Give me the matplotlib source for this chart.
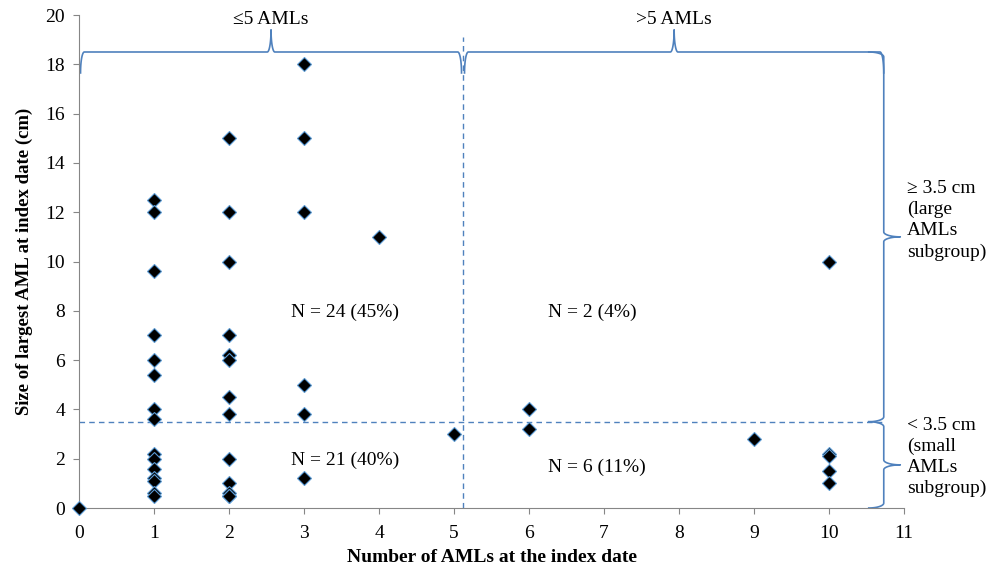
import numpy as np
import matplotlib
matplotlib.use("Agg")
import matplotlib.pyplot as plt

plt.rcParams['font.family'] = ['Liberation Serif', 'DejaVu Serif']

# data: number of AMLs vs size of largest AML
n_amls = [0,
          1, 1, 1, 1, 1, 1, 1, 1, 1, 1, 1, 1, 1, 1, 1,
          2, 2, 2, 2, 2, 2, 2, 2, 2, 2, 2, 2, 2,
          3, 3, 3, 3, 3, 3,
          4, 5, 6, 6, 9,
          10, 10, 10, 10, 10]
size_cm = [0,
           12.5, 12, 9.6, 7, 6, 5.4, 4, 3.6, 2.2, 2.0, 1.6, 1.2, 1.1, 0.6, 0.5,
           15, 12, 10, 7, 6.2, 6, 4.5, 3.8, 2, 1, 0.6, 0.5, 0.5,
           18, 15, 12, 5, 3.8, 1.2,
           11, 3.0, 4, 3.2, 2.8,
           10, 2.2, 2.1, 1.5, 1.0]

split_n = 5.12       # dashed vertical divider
split_size = 3.5     # dashed horizontal divider
group_labels = ["N = 24 (45%)", "N = 2 (4%)", "N = 21 (40%)", "N = 6 (11%)"]
group_pos = [(3.55, 7.95), (6.85, 7.95), (3.55, 1.95), (6.9, 1.65)]

blue = '#4F81BD'
gray = '#868686'


def hbrace(x0, x1, yb, d, w, h):
    # horizontal curly brace, ends curl down by d, tip up by h
    xm = (x0 + x1) / 2
    t = np.linspace(0, np.pi / 2, 20)
    c, s = np.cos(t), np.sin(t)
    xs = np.concatenate([x0 + w - w * c, xm - w + w * s, xm + w - w * c, x1 - w + w * s])
    ys = np.concatenate([yb - d + d * s, yb + h - h * c, yb + h - h * s, yb - d + d * c])
    return xs, ys


def vbrace(y0, y1, xb, d, w, h):
    # vertical curly brace, ends curl left by d, tip right by h
    ym = (y0 + y1) / 2
    t = np.linspace(0, np.pi / 2, 20)
    c, s = np.cos(t), np.sin(t)
    xs = np.concatenate([xb - d + d * s, xb + h - h * c, xb + h - h * s, xb - d + d * c])
    ys = np.concatenate([y0 + w - w * c, ym - w + w * s, ym + w - w * c, y1 - w + w * s])
    return xs, ys


fig = plt.figure(figsize=(10.03, 5.69), dpi=100)
ax = fig.add_axes([0.0788, 0.1072, 0.9013 - 0.0788, 0.9736 - 0.1072])

ax.plot(n_amls, size_cm, linestyle='none', marker='D', markersize=7.5,
        markerfacecolor='black', markeredgecolor='#5B9BD5', markeredgewidth=0.8,
        clip_on=False, zorder=5)

ax.plot([0, 10.7], [split_size, split_size], linestyle='--', color=blue,
        linewidth=1, dashes=(4, 3), clip_on=False)
ax.plot([split_n, split_n], [0, 19.1], linestyle='--', color=blue,
        linewidth=1, dashes=(4, 3), clip_on=False)

right_x = 10.73
for (a, b) in [(0.02, split_n - 0.02), (split_n + 0.02, right_x)]:
    xs, ys = hbrace(a, b, 18.5, 0.85, 0.05, 0.9)
    ax.plot(xs, ys, color=blue, linewidth=1.2, clip_on=False)
for (a, b) in [(0, split_size), (split_size, 18.5)]:
    xs, ys = vbrace(a, b, right_x, 0.2, 0.2, 0.22)
    ax.plot(xs, ys, color=blue, linewidth=1.2, clip_on=False)

ax.text(split_n / 2, 19.8, "≤5 AMLs", ha='center', va='center', fontsize=14)
ax.text((split_n + right_x) / 2, 19.8, ">5 AMLs", ha='center', va='center', fontsize=14)
ax.text(11.04, 13.3, "≥ 3.5 cm\n(large\nAMLs\nsubgroup)", ha='left', va='top',
        fontsize=14, linespacing=1.3)
ax.text(11.04, 3.7, "< 3.5 cm\n(small\nAMLs\nsubgroup)", ha='left', va='top',
        fontsize=14, linespacing=1.3)

for lab, (gx, gy) in zip(group_labels, group_pos):
    ax.text(gx, gy, lab, ha='center', va='center', fontsize=14)

ax.set_xlim(0, 11)
ax.set_ylim(0, 20)
ax.set_xticks(range(0, 12))
ax.set_yticks(range(0, 21, 2))
ax.tick_params(direction='out', length=4, color=gray, labelsize=14)
ax.tick_params(axis='x', pad=8)
ax.tick_params(axis='y', pad=6)
for s in ['top', 'right']:
    ax.spines[s].set_visible(False)
for s in ['left', 'bottom']:
    ax.spines[s].set_color(gray)
ax.set_xlabel("Number of AMLs at the index date", fontsize=14, fontweight='bold', labelpad=5)
ax.set_ylabel("Size of largest AML at index date (cm)", fontsize=13.5, fontweight='bold', labelpad=9)

fig.savefig("out.png", dpi=100)
